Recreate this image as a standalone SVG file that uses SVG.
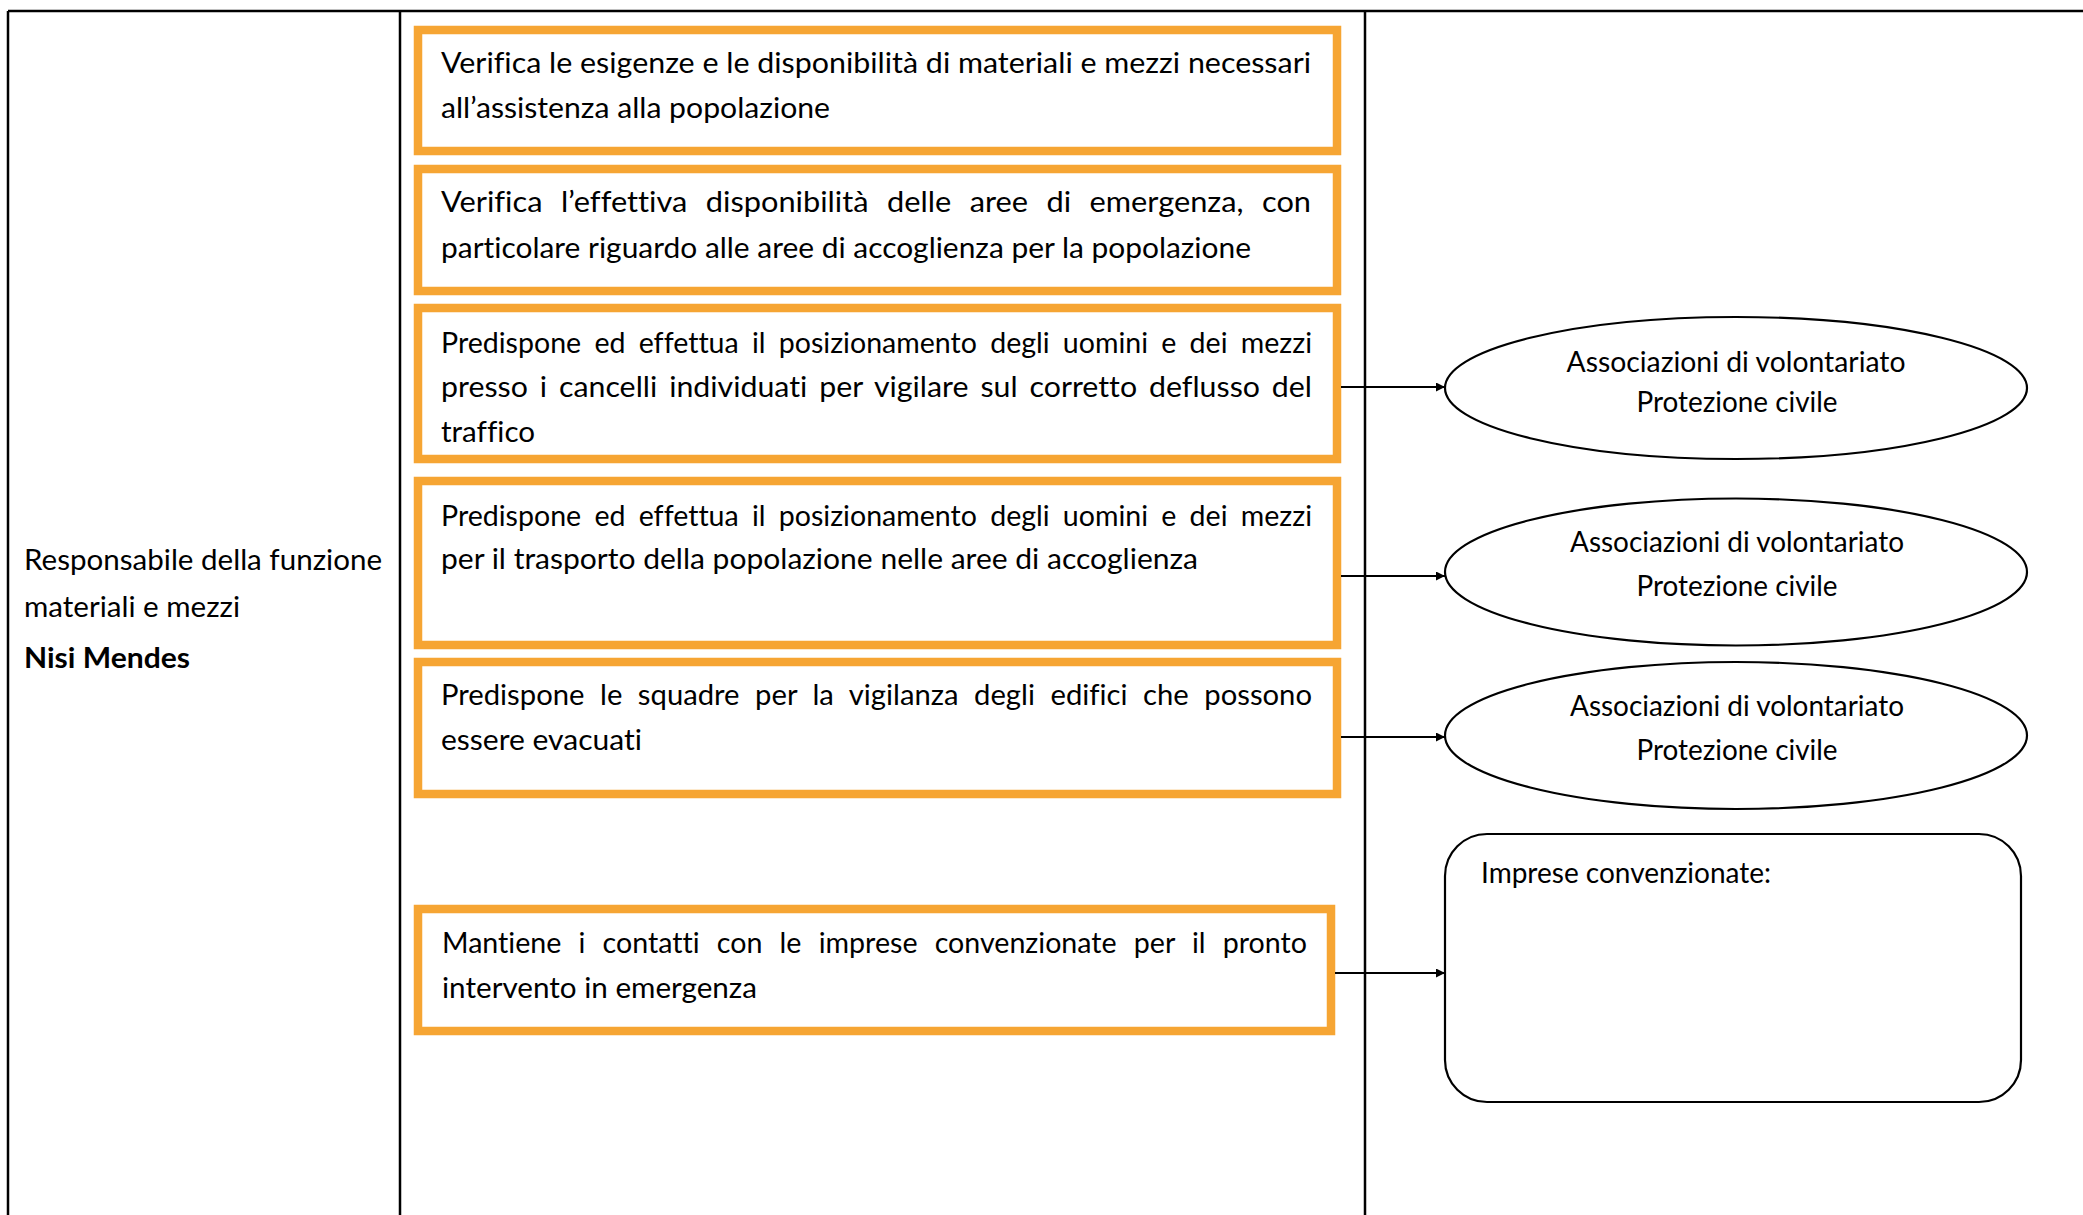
<svg xmlns="http://www.w3.org/2000/svg" width="2083" height="1215" viewBox="0 0 2083 1215">
<style>
  .grid { stroke: #000; stroke-width: 2.5; fill: none; }
  .task { fill: #fff; stroke: #F6A533; stroke-width: 8.5; }
  .ent { fill: #fff; stroke: #000; stroke-width: 2.2; }
  .t { font-family: Lato, "Liberation Sans", sans-serif; font-size: 29px; fill: #000; font-variant-ligatures: none; }
  .b { font-weight: bold; }
  .c { text-anchor: middle; }
  .conn { stroke: #000; stroke-width: 2.2; fill: none; marker-end: url(#ah); }
</style>
<defs>
  <marker id="ah" viewBox="0 0 10 10" refX="10" refY="5" markerUnits="userSpaceOnUse" markerWidth="11" markerHeight="9" orient="auto">
    <path d="M0,0 L10,5 L0,10 z" fill="#000"/>
  </marker>
</defs>
<rect x="0" y="0" width="2083" height="1215" fill="#fff"/>

<g id="table">
  <line class="grid" x1="8" y1="11" x2="2083" y2="11"/>
  <line class="grid" x1="8" y1="11" x2="8" y2="1215"/>
  <line class="grid" x1="400" y1="11" x2="400" y2="1215"/>
  <line class="grid" x1="1365" y1="11" x2="1365" y2="1215"/>
</g>

<g id="role">
  <text class="t" x="24" y="570" textLength="358" lengthAdjust="spacingAndGlyphs">Responsabile della funzione</text>
  <text class="t" x="24" y="617" textLength="216" lengthAdjust="spacingAndGlyphs">materiali e mezzi</text>
  <text class="t b" x="24" y="668" textLength="166" lengthAdjust="spacingAndGlyphs">Nisi Mendes</text>
</g>

<g id="task1">
  <rect class="task" x="418" y="30" width="919" height="121"/>
  <text class="t" x="441" y="73" textLength="870" lengthAdjust="spacingAndGlyphs">Verifica le esigenze e le disponibilità di materiali e mezzi necessari</text>
  <text class="t" x="441" y="118" textLength="389" lengthAdjust="spacingAndGlyphs">all’assistenza alla popolazione</text>
</g>

<g id="task2">
  <rect class="task" x="418" y="169" width="919" height="122"/>
  <text class="t" x="441" y="212" textLength="870" lengthAdjust="spacingAndGlyphs" word-spacing="10">Verifica l’effettiva disponibilità delle aree di emergenza, con</text>
  <text class="t" x="441" y="258" textLength="810" lengthAdjust="spacingAndGlyphs">particolare riguardo alle aree di accoglienza per la popolazione</text>
</g>

<g id="task3">
  <rect class="task" x="418" y="308" width="919" height="151"/>
  <text class="t" x="441" y="353" textLength="871" lengthAdjust="spacingAndGlyphs" word-spacing="6">Predispone ed effettua il posizionamento degli uomini e dei mezzi</text>
  <text class="t" x="441" y="397" textLength="871" lengthAdjust="spacingAndGlyphs" word-spacing="4">presso i cancelli individuati per vigilare sul corretto deflusso del</text>
  <text class="t" x="441" y="442" textLength="94" lengthAdjust="spacingAndGlyphs">traffico</text>
</g>

<g id="task4">
  <rect class="task" x="418" y="481" width="919" height="164"/>
  <text class="t" x="441" y="526" textLength="871" lengthAdjust="spacingAndGlyphs" word-spacing="6">Predispone ed effettua il posizionamento degli uomini e dei mezzi</text>
  <text class="t" x="441" y="569" textLength="757" lengthAdjust="spacingAndGlyphs">per il trasporto della popolazione nelle aree di accoglienza</text>
</g>

<g id="task5">
  <rect class="task" x="418" y="662" width="919" height="132"/>
  <text class="t" x="441" y="705" textLength="871" lengthAdjust="spacingAndGlyphs" word-spacing="8">Predispone le squadre per la vigilanza degli edifici che possono</text>
  <text class="t" x="441" y="750" textLength="201" lengthAdjust="spacingAndGlyphs">essere evacuati</text>
</g>

<g id="task6">
  <rect class="task" x="418" y="909" width="913" height="122"/>
  <text class="t" x="442" y="953" textLength="865" lengthAdjust="spacingAndGlyphs" word-spacing="10">Mantiene i contatti con le imprese convenzionate per il pronto</text>
  <text class="t" x="442" y="998" textLength="315" lengthAdjust="spacingAndGlyphs">intervento in emergenza</text>
</g>

<g id="assoc1">
  <ellipse class="ent" cx="1736" cy="388" rx="291" ry="71"/>
  <text class="t c" x="1736" y="372" textLength="339" lengthAdjust="spacingAndGlyphs">Associazioni di volontariato</text>
  <text class="t c" x="1737" y="412" textLength="201" lengthAdjust="spacingAndGlyphs">Protezione civile</text>
</g>

<g id="assoc2">
  <ellipse class="ent" cx="1736" cy="572" rx="291" ry="73.5"/>
  <text class="t c" x="1737" y="552" textLength="334" lengthAdjust="spacingAndGlyphs">Associazioni di volontariato</text>
  <text class="t c" x="1737" y="596" textLength="201" lengthAdjust="spacingAndGlyphs">Protezione civile</text>
</g>

<g id="assoc3">
  <ellipse class="ent" cx="1736" cy="735.5" rx="291" ry="73.5"/>
  <text class="t c" x="1737" y="716" textLength="334" lengthAdjust="spacingAndGlyphs">Associazioni di volontariato</text>
  <text class="t c" x="1737" y="760" textLength="201" lengthAdjust="spacingAndGlyphs">Protezione civile</text>
</g>

<g id="imprese">
  <rect class="ent" x="1445" y="834" width="576" height="268" rx="42" ry="42"/>
  <text class="t" x="1481" y="883" textLength="290" lengthAdjust="spacingAndGlyphs">Imprese convenzionate:</text>
</g>

<g id="connectors">
  <line class="conn" x1="1341" y1="387" x2="1445" y2="387"/>
  <line class="conn" x1="1341" y1="576" x2="1445" y2="576"/>
  <line class="conn" x1="1341" y1="737" x2="1445" y2="737"/>
  <line class="conn" x1="1335" y1="973" x2="1445" y2="973"/>
</g>
</svg>
